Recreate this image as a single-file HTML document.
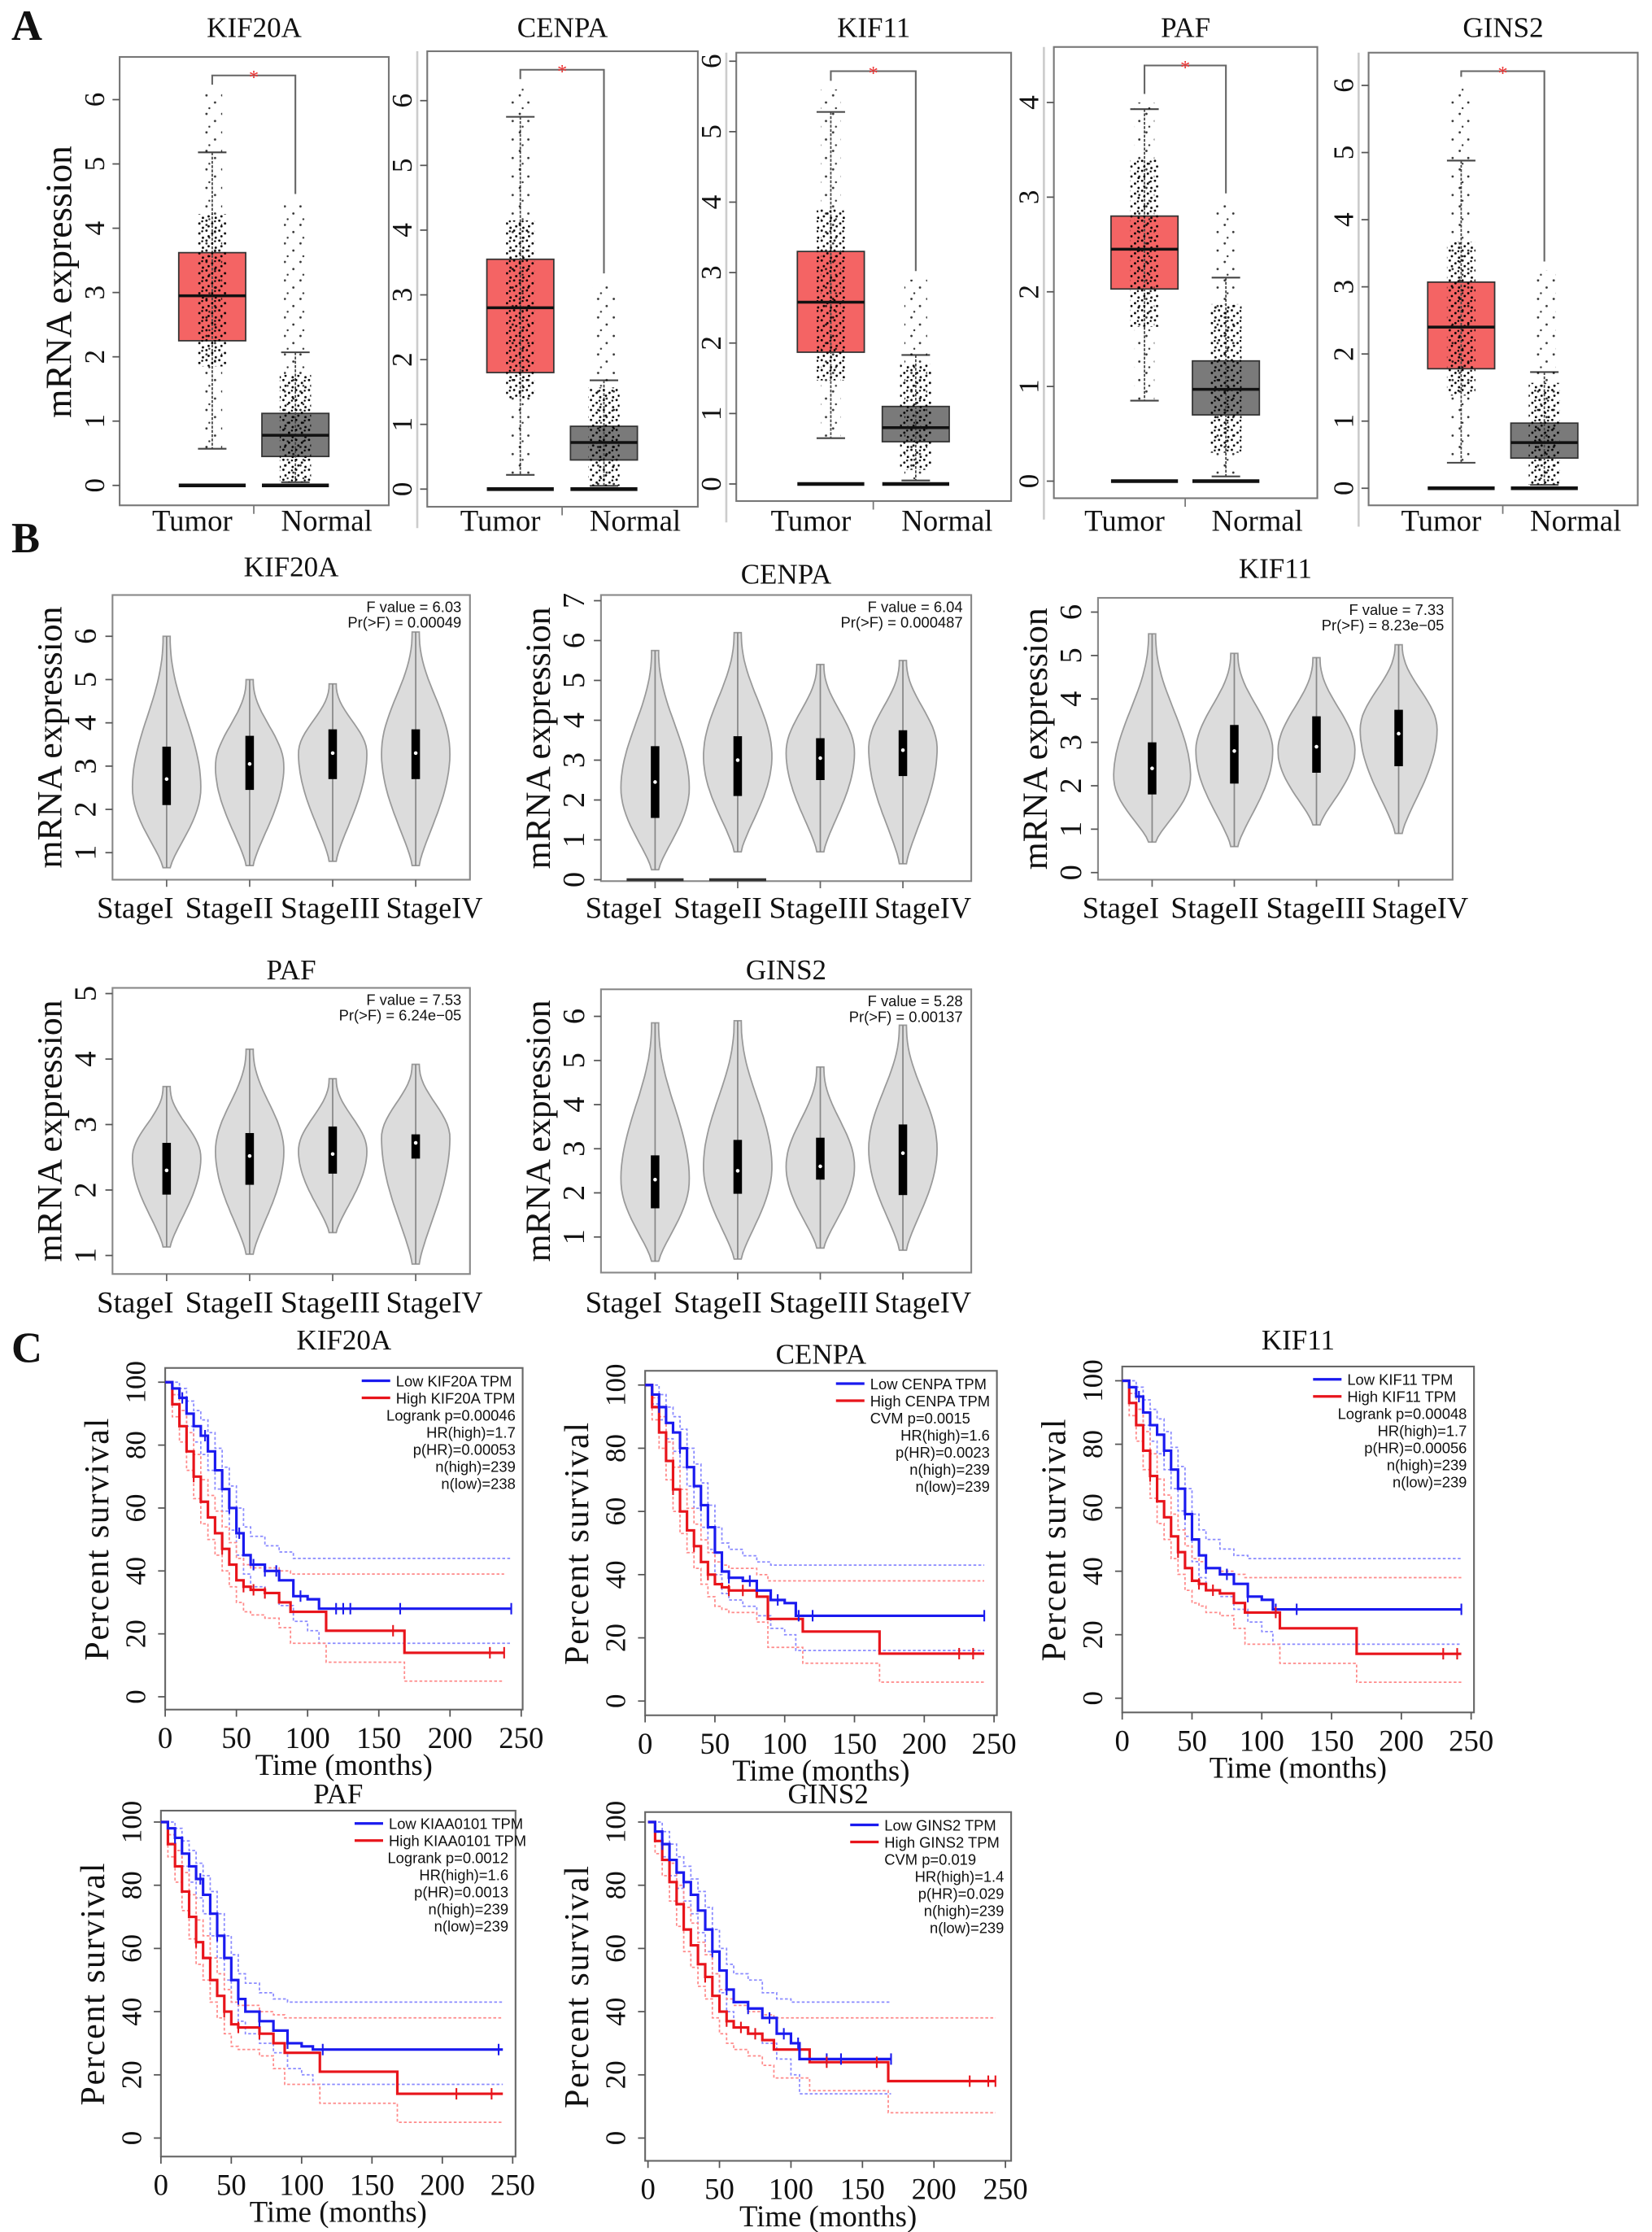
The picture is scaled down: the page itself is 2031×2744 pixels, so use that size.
<!DOCTYPE html>
<html><head><meta charset="utf-8">
<style>
html,body{margin:0;padding:0;background:#fff;}
svg{display:block;}
text{font-family:"Liberation Serif",serif;fill:#111;}
.sans{font-family:"Liberation Sans Narrow","Liberation Sans",sans-serif;}
</style></head>
<body>
<svg id="fig" width="2031" height="2744" viewBox="0 0 1160 1568" preserveAspectRatio="none" xmlns="http://www.w3.org/2000/svg">
<defs>
<pattern id="dotsT" width="9" height="7" patternUnits="userSpaceOnUse">
<circle cx="1" cy="1" r="0.8" fill="#000"/><circle cx="5" cy="3" r="0.8" fill="#000"/><circle cx="2.5" cy="5" r="0.8" fill="#000"/><circle cx="7.5" cy="6" r="0.8" fill="#000"/><circle cx="7" cy="1.5" r="0.7" fill="#000"/>
</pattern>
<pattern id="dotsS" width="11" height="13" patternUnits="userSpaceOnUse">
<circle cx="2" cy="2" r="0.8" fill="#000"/><circle cx="8" cy="7" r="0.8" fill="#000"/><circle cx="4" cy="11" r="0.7" fill="#000"/>
</pattern>
</defs>
<text x="8" y="28" font-size="30" font-weight="bold">A</text>
<text x="8" y="388" font-size="30" font-weight="bold">B</text>
<text x="8" y="957" font-size="30" font-weight="bold">C</text>
<g id="root"></g>
</svg>
<script>
// ---------- Panel A: box plot data ----------
const boxGenes = ["KIF20A","CENPA","KIF11","PAF","GINS2"];
const boxTicks = [[0,1,2,3,4,5,6],[0,1,2,3,4,5,6],[0,1,2,3,4,5,6],[0,1,2,3,4],[0,1,2,3,4,5,6]];
const tumorQ1 = [2.25,1.8,1.87,2.03,1.78];
const tumorMed = [2.95,2.8,2.58,2.45,2.4];
const tumorQ3 = [3.62,3.55,3.3,2.8,3.07];
const tumorLo = [0.57,0.22,0.65,0.85,0.38];
const tumorHi = [5.18,5.75,5.28,3.93,4.88];
const tumorMax = [6.1,6.2,5.6,4.0,6.0];
const normalQ1 = [0.45,0.45,0.6,0.7,0.45];
const normalMed = [0.78,0.72,0.8,0.97,0.68];
const normalQ3 = [1.12,0.97,1.1,1.27,0.97];
const normalHi = [2.07,1.68,1.83,2.15,1.73];
const normalMax = [4.4,3.2,2.9,2.95,3.25];

// ---------- Panel B: violin data ----------
const vGenes = ["KIF20A","CENPA","KIF11","PAF","GINS2"];
const stages = ["StageI","StageII","StageIII","StageIV"];
const vTicks = [[1,2,3,4,5,6],[0,1,2,3,4,5,6,7],[0,1,2,3,4,5,6],[1,2,3,4,5],[1,2,3,4,5,6]];
const fValues = ["F value = 6.03","F value = 6.04","F value = 7.33","F value = 7.53","F value = 5.28"];
const pValues = ["Pr(>F) = 0.00049","Pr(>F) = 0.000487","Pr(>F) = 8.23e\u221205","Pr(>F) = 6.24e\u221205","Pr(>F) = 0.00137"];
const vMin = [[0.65,0.7,0.8,0.7],[0.25,0.7,0.7,0.4],[0.7,0.6,1.1,0.9],[1.13,1.02,1.35,0.87],[0.45,0.5,0.75,0.7]];
const vMax = [[6.0,5.0,4.9,6.1],[5.75,6.2,5.4,5.5],[5.5,5.05,4.95,5.25],[3.58,4.15,3.7,3.92],[5.85,5.9,4.85,5.8]];
const vPeak = [[2.5,3.0,3.3,3.3],[2.3,3.1,3.2,3.3],[2.2,2.8,2.8,3.3],[2.5,2.6,2.6,2.8],[2.3,2.6,2.6,3.0]];
const vQ1 = [[2.1,2.45,2.7,2.7],[1.55,2.1,2.5,2.6],[1.8,2.05,2.3,2.45],[1.93,2.08,2.25,2.48],[1.65,1.98,2.3,1.95]];
const vMed = [[2.7,3.05,3.3,3.3],[2.45,3.0,3.05,3.25],[2.4,2.8,2.9,3.2],[2.3,2.52,2.55,2.72],[2.3,2.5,2.6,2.9]];
const vQ3 = [[3.45,3.7,3.85,3.85],[3.35,3.6,3.55,3.75],[3.0,3.4,3.6,3.75],[2.72,2.87,2.97,2.85],[2.85,3.2,3.25,3.55]];

// ---------- Panel C: survival data ----------
const kmGenes = ["KIF20A","CENPA","KIF11","PAF","GINS2"];
const kmTicksX = [0,50,100,150,200,250];
const kmTicksY = [0,20,40,60,80,100];
const legLow = ["Low KIF20A TPM","Low CENPA TPM","Low KIF11 TPM","Low KIAA0101 TPM","Low GINS2 TPM"];
const legHigh = ["High KIF20A TPM","High CENPA TPM","High KIF11 TPM","High KIAA0101 TPM","High GINS2 TPM"];
const legStats = [
 ["Logrank p=0.00046","HR(high)=1.7","p(HR)=0.00053","n(high)=239","n(low)=238"],
 ["CVM    p=0.0015","HR(high)=1.6","p(HR)=0.0023","n(high)=239","n(low)=239"],
 ["Logrank p=0.00048","HR(high)=1.7","p(HR)=0.00056","n(high)=239","n(low)=239"],
 ["Logrank p=0.0012","HR(high)=1.6","p(HR)=0.0013","n(high)=239","n(low)=239"],
 ["CVM    p=0.019","HR(high)=1.4","p(HR)=0.029","n(high)=239","n(low)=239"]];
const lowT = [[0,5,10,15,20,25,30,35,40,45,50,55,60,70,80,90,100,108,243],
 [0,5,10,15,20,25,30,35,40,45,50,55,60,70,80,90,100,108,243],
 [0,5,10,15,20,25,30,35,40,45,50,55,60,70,80,90,100,108,243],
 [0,5,10,15,20,25,30,35,40,45,50,55,60,70,80,90,100,108,243],
 [0,5,10,15,20,25,30,35,40,45,50,55,60,70,80,90,100,106,170]];
const lowS = [[100,98,95,90,86,83,78,72,66,60,52,45,42,40,37,32,31,28,28],
 [100,97,93,88,85,80,74,68,62,55,47,41,39,38,35,32,31,27,27],
 [100,98,95,90,86,83,78,72,66,58,50,45,41,39,36,32,31,28,28],
 [100,98,95,90,86,82,77,71,64,57,50,44,40,37,34,30,29,28,28],
 [100,97,93,88,84,81,77,72,66,59,53,47,43,41,38,33,30,25,25]];
const highT = [[0,5,10,15,20,25,30,35,40,45,50,55,60,70,80,88,113,168,238],
 [0,5,10,15,20,25,30,35,40,45,50,55,60,70,80,88,113,168,243],
 [0,5,10,15,20,25,30,35,40,45,50,55,60,70,80,88,113,168,243],
 [0,5,10,15,20,25,30,35,40,45,50,55,60,70,80,88,113,168,243],
 [0,5,10,15,20,25,30,35,40,45,50,55,60,70,80,88,113,168,243]];
const highS = [[100,93,86,78,70,62,57,52,47,42,37,35,34,33,30,27,21,14,14],
 [100,93,85,76,67,60,54,49,44,40,37,36,35,35,33,26,22,15,15],
 [100,93,86,78,70,62,57,51,46,41,37,36,34,33,30,27,22,14,14],
 [100,93,86,78,70,62,57,50,45,40,36,35,35,33,30,27,21,14,14],
 [100,94,88,81,74,66,61,55,51,45,40,37,35,33,31,28,24,18,18]];
const lowUp = [[100,100,98,94,91,88,84,79,73,67,60,54,51,48,46,44,44,44,44],
 [100,100,97,93,90,86,80,75,69,62,55,50,48,46,44,43,43,43,43],
 [100,100,98,94,91,88,84,79,73,66,58,53,50,47,45,44,44,44,44],
 [100,100,98,94,91,87,83,78,71,64,58,52,49,46,44,43,43,43,43],
 [100,100,97,93,89,86,82,78,73,66,60,55,52,50,46,44,43,43,43]];
const lowDn = [[100,96,91,86,81,77,72,66,59,53,45,39,35,33,29,24,21,17,17],
 [100,94,89,83,79,74,68,61,55,48,40,34,32,30,27,23,21,16,16],
 [100,96,91,86,81,77,72,66,59,51,43,38,34,32,28,24,21,17,17],
 [100,96,91,86,81,76,71,64,57,50,43,37,33,30,27,22,20,17,17],
 [100,94,89,83,79,75,71,65,59,52,46,40,35,33,30,25,20,14,14]];
const highUp = [[100,96,91,84,77,69,64,59,54,49,44,42,41,41,40,39,39,39,39],
 [100,96,90,82,74,67,61,56,51,47,44,43,42,42,40,38,38,38,38],
 [100,96,91,84,77,69,64,58,53,48,44,43,41,40,39,38,38,38,38],
 [100,96,91,84,77,69,64,57,52,47,43,42,42,40,39,38,38,38,38],
 [100,97,93,87,80,73,68,62,58,52,47,44,42,40,39,38,38,38,38]];
const highDn = [[100,89,81,72,63,55,50,45,40,35,30,27,26,25,22,17,11,5,5],
 [100,89,80,70,60,53,47,42,37,33,30,29,28,28,25,17,12,6,6],
 [100,89,81,72,63,55,50,44,39,34,30,29,27,26,22,17,11,5,5],
 [100,89,81,72,63,55,50,43,38,33,29,28,28,26,22,17,11,5,5],
 [100,90,83,75,67,59,54,48,44,38,33,30,28,26,23,19,15,8,8]];
const censorLow = [[12,28,45,52,62,70,78,95,120,125,130,165,243],[10,25,40,60,75,95,110,120,243],[12,30,45,60,75,90,110,125,243],[10,28,40,55,70,90,115,240],[10,25,45,55,70,85,95,105,125,135,170]];
const censorHigh = [[20,40,55,62,70,160,228,238],[20,35,45,60,70,225,235],[20,40,55,65,110,230,240],[25,45,55,70,210,235],[40,55,65,75,125,160,225,238,243]];

// ---------- helpers ----------
const NS = "http://www.w3.org/2000/svg";
const root = document.getElementById('root');
function mk(tag, attrs, parent, txt){const e=document.createElementNS(NS,tag);for(const k in attrs)e.setAttribute(k,attrs[k]);if(txt!==undefined)e.textContent=txt;(parent||root).appendChild(e);return e;}
function linScale(d0,d1,r0,r1){return v=>r0+(v-d0)*(r1-r0)/(d1-d0);}

// ---------- Panel A ----------
const boxFrames = [[84,40,273,355,341,6,70],[300,36,490,356,343.6,6,70.7],[517,37,710,352,340,6,43],[740,33,925,350,338,4,72],[961,37,1150,355,343,6,60]];
const boxTitleY = 26;
boxGenes.forEach((g,i)=>{
  const [x0,y0,x1,y1,yz,tv,yt]=boxFrames[i];
  const y=linScale(0,tv,yz,yt);
  const grp=mk('g',{});
  
  
  const t=mk('text',{x:(x0+x1)/2,y:boxTitleY,'font-size':20,'text-anchor':'middle'},grp,g);
  
  
  const fr=mk('rect',{x:x0,y:y0,width:x1-x0,height:y1-y0,fill:'none',stroke:'#777','stroke-width':1.2},grp);
  
  
  if(i>0){const sp=mk('line',{x1:x0-7,x2:x0-7,y1:y0,y2:y1+15,stroke:'#ccc','stroke-width':1.5},grp);
    }
  boxTicks[i].forEach(v=>{
    mk('line',{x1:x0-5,x2:x0,y1:y(v),y2:y(v),stroke:'#555'},grp);
    const tl=mk('text',{x:x0-11,y:y(v),'font-size':20,'text-anchor':'middle',transform:`rotate(-90 ${x0-11} ${y(v)})`,fill:'#222'},grp,String(v));
    
    
  });
  const w=x1-x0;
  const cT=x0+w*0.344, cN=x0+w*0.653, bw=47;
  [cT,cN].forEach(c=>{const zb=mk('line',{x1:c-bw/2,x2:c+bw/2,y1:yz,y2:yz,stroke:'#111','stroke-width':2.6},grp);
    });
  function drawBox(c,q1,med,q3,lo,hi,mx,fill,name,dw){
    const b=mk('rect',{x:c-bw/2,y:y(q3),width:bw,height:y(q1)-y(q3),fill:fill,stroke:'#333','stroke-width':1},grp);
    
    
    mk('line',{x1:c,x2:c,y1:y(hi),y2:y(lo),stroke:'#444','stroke-width':1,'stroke-dasharray':'2,1'},grp);
    mk('line',{x1:c-10,x2:c+10,y1:y(hi),y2:y(hi),stroke:'#444','stroke-width':1.2},grp);
    mk('line',{x1:c-10,x2:c+10,y1:y(lo),y2:y(lo),stroke:'#444','stroke-width':1.2},grp);
    const d=mk('rect',{x:c-dw/2+3,y:y(mx),width:dw-6,height:y(lo)-y(mx),fill:'url(#dotsS)',opacity:0.8},grp);
    
    
    const d2=mk('rect',{x:c-dw/2,y:y(q3+0.6),width:dw,height:y(q1-0.4)-y(q3+0.6),fill:'url(#dotsT)'},grp);
    
    
    const m=mk('line',{x1:c-bw/2,x2:c+bw/2,y1:y(med),y2:y(med),stroke:'#111','stroke-width':2},grp);
    
    
  }
  drawBox(cT,tumorQ1[i],tumorMed[i],tumorQ3[i],tumorLo[i],tumorHi[i],tumorMax[i],'#f46464','tumor',20);
  drawBox(cN,normalQ1[i],normalMed[i],normalQ3[i],0.05,normalHi[i],normalMax[i],'#7a7a7a','normal',22);
  const by=y0+13;
  const br=mk('path',{d:`M${cT} ${y(tumorMax[i])-6} V${by} H${cN} V${y(normalMax[i])-6}`,fill:'none',stroke:'#666','stroke-width':1.2},grp);
  
  
  const st=mk('text',{x:(cT+cN)/2,y:by+6,'font-size':14,'text-anchor':'middle',fill:'#e33',style:'fill:#e33'},grp,'*');
  
  
  mk('line',{x1:(cT+cN)/2,x2:(cT+cN)/2,y1:y1,y2:y1+6,stroke:'#777'},grp);
  const l1=mk('text',{x:cT-14,y:373,'font-size':21,'text-anchor':'middle'},grp,'Tumor');
  
  const l2=mk('text',{x:cN+22,y:373,'font-size':21,'text-anchor':'middle'},grp,'Normal');
  
});
const ya=mk('text',{x:50,y:198,'font-size':26,'text-anchor':'middle',transform:'rotate(-90 50 198)'},root,'mRNA expression');


// ---------- Panel B ----------
const vFrames = [
 [79,418,330,618,1,599,6,447,117,58.3,24,405,645],
 [422,418,682,619,0,618,7,422,460,58,24,410,645],
 [771,420,1020,618,0,613,6,430,809,57.7,27,406,645],
 [79,694,330,895,1,882,5,698,117,58.3,24,688,922],
 [422,695,682,894,1,869,6,714,460,58,24,688,922]];
const stageOff = [16,82,153,226];
const stageLen = [54,62,70,68];
vGenes.forEach((g,i)=>{
  const [x0,y0,x1,y1,a,pa,b,pb,vx,dx,hw,ty,ly]=vFrames[i];
  const y=linScale(a,b,pa,pb);
  const grp=mk('g',{});
  
  
  const t=mk('text',{x:(x0+x1)/2,y:ty,'font-size':20,'text-anchor':'middle'},grp,g);
  
  const fr=mk('rect',{x:x0,y:y0,width:x1-x0,height:y1-y0,fill:'none',stroke:'#888','stroke-width':1.2},grp);
  
  vTicks[i].forEach(v=>{
    mk('line',{x1:x0-5,x2:x0,y1:y(v),y2:y(v),stroke:'#555'},grp);
    const tl=mk('text',{x:x0-12,y:y(v),'font-size':22,'text-anchor':'middle',transform:`rotate(-90 ${x0-12} ${y(v)})`,fill:'#222'},grp,String(v));
    
  });
  const yl=mk('text',{x:x0-36,y:(y0+y1)/2,'font-size':25,'text-anchor':'middle',transform:`rotate(-90 ${x0-36} ${(y0+y1)/2})`},grp,'mRNA expression');
  
  const f1=mk('text',{x:x1-6,y:y0+12,'font-size':10.5,'text-anchor':'end',class:'sans',fill:'#333'},grp,fValues[i]);
  
  const f2=mk('text',{x:x1-6,y:y0+23,'font-size':10.5,'text-anchor':'end',class:'sans',fill:'#333'},grp,pValues[i]);
  
  stages.forEach((s,j)=>{
    const cx=vx+dx*j;
    const mn=vMin[i][j],mx=vMax[i][j],pk=vPeak[i][j];
    const N=40;let L=[],R=[];
    for(let k=0;k<=N;k++){
      const v=mn+(mx-mn)*k/N;
      const u=v<pk?(v-mn)/(pk-mn):(mx-v)/(mx-pk);
      const f=Math.pow(Math.sin(Math.PI/2*Math.max(0,Math.min(1,u))),v<pk?1.3:2.2);
      const ww=2.5+(hw-2.5)*f;
      L.push([cx-ww,y(v)]);R.push([cx+ww,y(v)]);
    }
    const pts=L.concat(R.reverse());
    const p=mk('path',{d:'M'+pts.map(q=>q[0].toFixed(1)+' '+q[1].toFixed(1)).join(' L')+' Z',fill:'#dcdcdc',stroke:'#999','stroke-width':1},grp);
    
    
    mk('line',{x1:cx,x2:cx,y1:y(mx),y2:y(mn),stroke:'#888','stroke-width':1},grp);
    const bx=mk('rect',{x:cx-3,y:y(vQ3[i][j]),width:6,height:y(vQ1[i][j])-y(vQ3[i][j]),fill:'#000'},grp);
    
    const md=mk('circle',{cx:cx,cy:y(vMed[i][j]),r:1.3,fill:'#fff'},grp);
    
    mk('line',{x1:cx,x2:cx,y1:y1,y2:y1+5,stroke:'#666'},grp);
    const lx=x0+stageOff[j];
    const sl=mk('text',{x:lx,y:ly,'font-size':21,'text-anchor':'middle',textLength:stageLen[j],lengthAdjust:'spacingAndGlyphs'},grp,s);
    
    if(i===1&&j<2){const zb=mk('line',{x1:cx-20,x2:cx+20,y1:y(0),y2:y(0),stroke:'#333','stroke-width':2},grp);
      }
  });
});

// ---------- Panel C ----------
const kmFrames = [
 [116,961,367,1201,116,366,1192,971,948],
 [453,963,700,1205,453,698,1195,973,958],
 [788,960,1035,1203,788,1033,1193,970,948],
 [113,1272,362,1515,113,360,1502,1280,1267],
 [453,1273,710,1518,455,706,1502,1280,1267]];
kmGenes.forEach((g,i)=>{
  const [x0,y0,x1,y1,px0,px1,py0,py1,ty]=kmFrames[i];
  const X=linScale(0,250,px0,px1), Y=linScale(0,100,py0,py1);
  const grp=mk('g',{});
  
  
  const t=mk('text',{x:(x0+x1)/2,y:ty,'font-size':20,'text-anchor':'middle'},grp,g);
  
  const fr=mk('rect',{x:x0,y:y0,width:x1-x0,height:y1-y0,fill:'none',stroke:'#666','stroke-width':1.2},grp);
  
  kmTicksY.forEach(v=>{
    mk('line',{x1:x0-5,x2:x0,y1:Y(v),y2:Y(v),stroke:'#555'},grp);
    const tl=mk('text',{x:x0-14,y:Y(v),'font-size':20,'text-anchor':'middle',transform:`rotate(-90 ${x0-14} ${Y(v)})`},grp,String(v));
    
  });
  kmTicksX.forEach(v=>{
    mk('line',{x1:X(v),x2:X(v),y1:y1,y2:y1+5,stroke:'#555'},grp);
    const tl=mk('text',{x:X(v),y:y1+27,'font-size':21,'text-anchor':'middle'},grp,String(v));
    
  });
  const xt=mk('text',{x:(x0+x1)/2,y:y1+46,'font-size':21,'text-anchor':'middle'},grp,'Time (months)');
  
  const yt=mk('text',{x:x0-40,y:(y0+y1)/2,'font-size':24,'text-anchor':'middle',transform:`rotate(-90 ${x0-40} ${(y0+y1)/2})`,'letter-spacing':1},grp,'Percent survival');
  
  function step(T,S){let d=`M${X(T[0]).toFixed(1)} ${Y(S[0]).toFixed(1)}`;for(let k=1;k<T.length;k++){d+=` H${X(T[k]).toFixed(1)} V${Y(S[k]).toFixed(1)}`;}return d;}
  function valAt(T,S,tt){let s=S[0];for(let k=0;k<T.length;k++){if(T[k]<=tt)s=S[k];}return s;}
  const ci=[[lowT[i],lowUp[i],'#8a8aff','ci-low-upper'],[lowT[i],lowDn[i],'#8a8aff','ci-low-lower'],[highT[i],highUp[i],'#ff8a8a','ci-high-upper'],[highT[i],highDn[i],'#ff8a8a','ci-high-lower']];
  ci.forEach(c=>{const p=mk('path',{d:step(c[0],c[1]),fill:'none',stroke:c[2],'stroke-width':1,'stroke-dasharray':'2,1.5'},grp);
    });
  const hp=mk('path',{d:step(highT[i],highS[i]),fill:'none',stroke:'#e8141b','stroke-width':1.8},grp);
  
  const lp=mk('path',{d:step(lowT[i],lowS[i]),fill:'none',stroke:'#1a1aef','stroke-width':1.8},grp);
  
  censorLow[i].forEach(c=>{const v=valAt(lowT[i],lowS[i],c);const m=mk('line',{x1:X(c),x2:X(c),y1:Y(v)-4,y2:Y(v)+4,stroke:'#1a1aef','stroke-width':1.2},grp);
    });
  censorHigh[i].forEach(c=>{const v=valAt(highT[i],highS[i],c);const m=mk('line',{x1:X(c),x2:X(c),y1:Y(v)-4,y2:Y(v)+4,stroke:'#e8141b','stroke-width':1.2},grp);
    });
  const lx=x1-113, ly=y0+13;
  mk('line',{x1:lx,x2:lx+20,y1:ly-4,y2:ly-4,stroke:'#1a1aef','stroke-width':1.8},grp);
  mk('line',{x1:lx,x2:lx+20,y1:ly+8,y2:ly+8,stroke:'#e8141b','stroke-width':1.8},grp);
  const t1=mk('text',{x:lx+24,y:ly,'font-size':10.5,class:'sans',fill:'#222'},grp,legLow[i]);
  
  const t2=mk('text',{x:lx+24,y:ly+12,'font-size':10.5,class:'sans',fill:'#222'},grp,legHigh[i]);
  
  legStats[i].forEach((s,k)=>{
    const cvm=s.startsWith('CVM');
    const st=mk('text',{x:cvm?lx+24:x1-5,y:ly+24+12*k,'font-size':10.5,class:'sans','text-anchor':cvm?'start':'end',fill:'#222','xml:space':'preserve'},grp,s);
    
  });
});
</script>
</body></html>
